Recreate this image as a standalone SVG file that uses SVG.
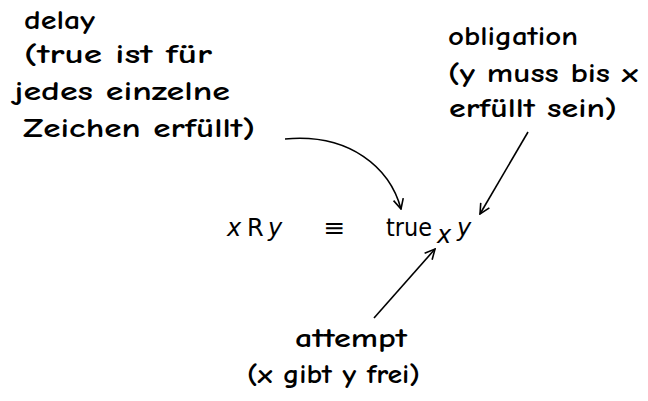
<svg xmlns="http://www.w3.org/2000/svg" width="648" height="401" viewBox="0 0 648 401">
<style>
.hand{font-family:"Comic Neue","Liberation Sans","DejaVu Sans",sans-serif;font-size:27px;fill:#000;font-weight:bold}
.math{font-family:"DejaVu Sans","Liberation Sans",sans-serif;font-size:24px;fill:#000}
.mi{font-style:italic}
.conn{fill:none;stroke:#000;stroke-width:1.6}
</style>
<defs>
<marker id="ah" viewBox="0 0 12 12" refX="11" refY="6" markerWidth="12" markerHeight="12" markerUnits="userSpaceOnUse" orient="auto">
<path d="M1,1 L11,6 L1,11" fill="none" stroke="#000" stroke-width="1.6"/>
</marker>
</defs>
<rect width="648" height="401" fill="#fff"/>
<g id="delay">
<text class="hand" x="24" y="29" textLength="71" lengthAdjust="spacingAndGlyphs">delay</text>
<text class="hand" x="24" y="63" textLength="188" lengthAdjust="spacingAndGlyphs">(true ist für</text>
<text class="hand" x="14" y="100" textLength="216" lengthAdjust="spacingAndGlyphs">jedes einzelne</text>
<text class="hand" x="23" y="137" textLength="232" lengthAdjust="spacingAndGlyphs">Zeichen erfüllt)</text>
</g>
<g id="obligation">
<text class="hand" x="448" y="45" textLength="130" lengthAdjust="spacingAndGlyphs">obligation</text>
<text class="hand" x="448" y="82" textLength="190" lengthAdjust="spacingAndGlyphs">(y muss bis x</text>
<text class="hand" x="449" y="117" textLength="168" lengthAdjust="spacingAndGlyphs">erfüllt sein)</text>
</g>
<g id="attempt">
<text class="hand" x="295" y="347" textLength="112" lengthAdjust="spacingAndGlyphs">attempt</text>
<text class="hand" x="247" y="383" textLength="173" lengthAdjust="spacingAndGlyphs">(x gibt y frei)</text>
</g>
<g id="formula">
<text class="math" x="227" y="236"><tspan class="mi">x</tspan><tspan x="247">R</tspan><tspan class="mi" x="268">y</tspan></text>
<text class="math" x="323" y="236" textLength="22" lengthAdjust="spacingAndGlyphs">≡</text>
<text class="math" x="386" y="236" textLength="46" lengthAdjust="spacingAndGlyphs">true</text>
<text class="math mi" x="437" y="243">x</text>
<text class="math mi" x="457" y="236">y</text>
</g>
<g id="connectors">
<path class="conn" d="M285,139 C350,133 390,168 401,209" marker-end="url(#ah)"/>
<path class="conn" d="M528,132 L480,214" marker-end="url(#ah)"/>
<path class="conn" d="M374,318 L435,249" marker-end="url(#ah)"/>
</g>
</svg>
